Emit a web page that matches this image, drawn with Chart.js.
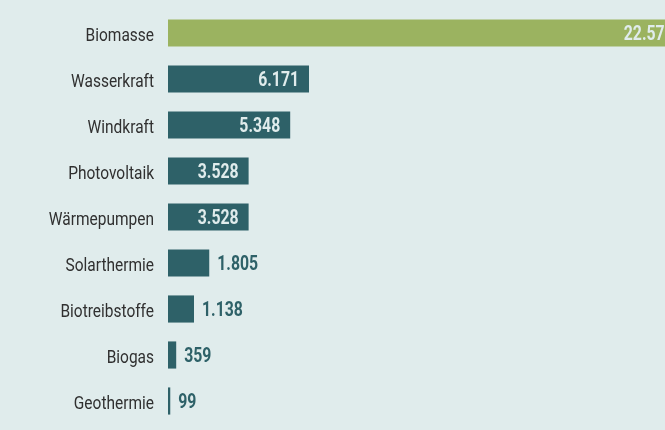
<!DOCTYPE html>
<html>
<head>
<meta charset="utf-8">
<script src="https://cdn.jsdelivr.net/npm/chart.js@4/dist/chart.umd.min.js"></script>
<style>
  html, body { margin: 0; padding: 0; background: #e0ecec; overflow: hidden; width: 665px; height: 430px; }
  #wrap { position: relative; width: 700px; height: 430px; }
</style>
</head>
<body>
<div id="wrap"><canvas id="c"></canvas></div>
<script>
const categories = ["Biomasse", "Wasserkraft", "Windkraft", "Photovoltaik", "Wärmepumpen", "Solarthermie", "Biotreibstoffe", "Biogas", "Geothermie"];
const values = [22570, 6171, 5348, 3528, 3528, 1805, 1138, 359, 99];
const barColors = ["#9bb360", "#2e6168", "#2e6168", "#2e6168", "#2e6168", "#2e6168", "#2e6168", "#2e6168", "#2e6168"];

const FONT = "Roboto, 'DejaVu Sans', sans-serif";

function fmt(v) {
  return String(v).replace(/\B(?=(\d{3})+(?!\d))/g, ".");
}

// category labels, placed by the y scale, drawn horizontally condensed
const categoryLabels = {
  id: "categoryLabels",
  afterDraw(chart) {
    const ctx = chart.ctx;
    const y = chart.scales.y;
    const xRight = chart.chartArea.left - 14;
    ctx.save();
    ctx.font = "18px " + FONT;
    ctx.fillStyle = "#303030";
    ctx.textAlign = "right";
    ctx.textBaseline = "alphabetic";
    chart.data.labels.forEach((lab, i) => {
      const py = y.getPixelForTick(i);
      ctx.save();
      ctx.translate(xRight, py + 7.5);
      ctx.scale(0.86, 1);
      ctx.fillText(lab, 0, 0);
      ctx.restore();
    });
    ctx.restore();
  }
};

const valueLabels = {
  id: "valueLabels",
  afterDatasetsDraw(chart) {
    const ctx = chart.ctx;
    const meta = chart.getDatasetMeta(0);
    const sx = 0.79;
    ctx.save();
    ctx.font = "bold 20px " + FONT;
    ctx.textBaseline = "alphabetic";
    meta.data.forEach((bar, i) => {
      const txt = fmt(values[i]);
      const w = ctx.measureText(txt).width * sx;
      const barW = bar.x - bar.base;
      ctx.save();
      if (w + 16 < barW) {
        ctx.fillStyle = "#e0ecec";
        ctx.textAlign = "right";
        ctx.translate(bar.x - 10, bar.y + 7);
      } else {
        ctx.fillStyle = "#2e6168";
        ctx.textAlign = "left";
        ctx.translate(bar.x + 8, bar.y + 7);
      }
      ctx.scale(sx, 1);
      ctx.fillText(txt, 0, 0);
      ctx.restore();
    });
    ctx.restore();
  }
};

new Chart(document.getElementById("c"), {
  type: "bar",
  data: {
    labels: categories,
    datasets: [{
      data: values,
      backgroundColor: barColors,
      borderWidth: 0,
      categoryPercentage: 1,
      barPercentage: 0.59
    }]
  },
  options: {
    indexAxis: "y",
    responsive: true,
    maintainAspectRatio: false,
    animation: false,
    layout: { padding: { top: 10, bottom: 6, left: 0, right: 10 } },
    plugins: { legend: { display: false }, tooltip: { enabled: false } },
    scales: {
      x: { display: false, min: 0, max: 22845 },
      y: {
        grid: { display: false, drawTicks: false },
        border: { display: false },
        ticks: { display: false },
        afterFit(scale) {
          scale.width = 168;
          scale.paddingTop = 0;
          scale.paddingBottom = 0;
        }
      }
    }
  },
  plugins: [valueLabels, categoryLabels]
});
</script>
</body>
</html>
